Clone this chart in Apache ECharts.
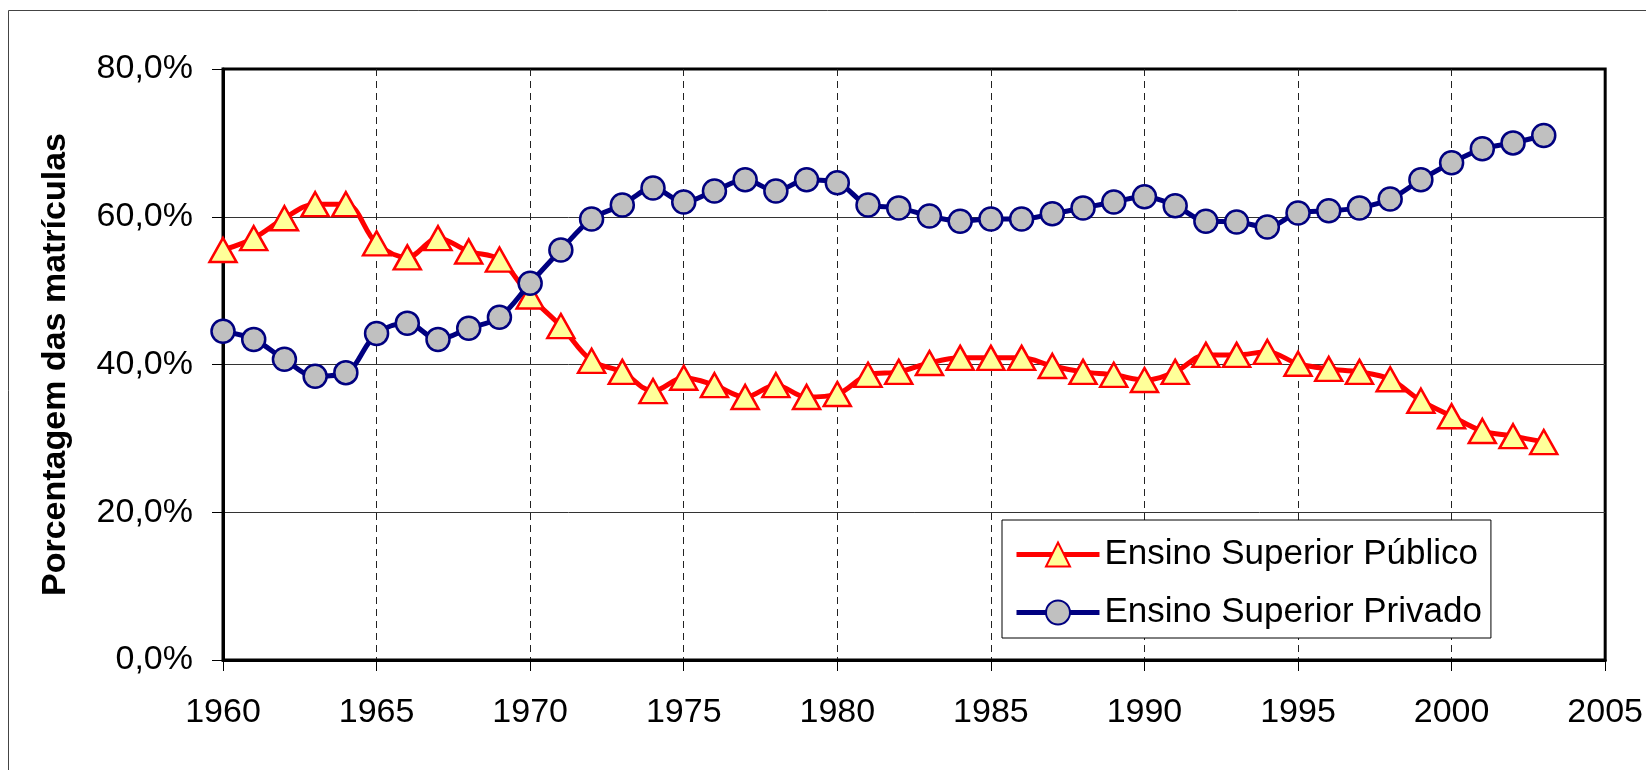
<!DOCTYPE html>
<html style="height: 100%">
<head>
	<meta charset="utf-8">
	<script src="https://cdn.jsdelivr.net/npm/echarts@6/dist/echarts.min.js"></script>
	<style>
		html, body { margin: 0; padding: 0; background: #fff; }
		#main { width: 1646px; height: 770px; }
	</style>
</head>
<body>
	<div id="main"></div>
	<script>
		// anos
		var anos = [1960, 1961, 1962, 1963, 1964, 1965, 1966, 1967, 1968, 1969,
			1970, 1971, 1972, 1973, 1974, 1975, 1976, 1977, 1978, 1979,
			1980, 1981, 1982, 1983, 1984, 1985, 1986, 1987, 1988, 1989,
			1990, 1991, 1992, 1993, 1994, 1995, 1996, 1997, 1998, 1999,
			2000, 2001, 2002, 2003];

		// % das matriculas
		var publico = [55.5, 57.1, 59.8, 61.7, 61.7, 56.4, 54.5, 57.1, 55.3, 54.2,
			49.2, 45.2, 40.5, 39.0, 36.4, 38.2, 37.2, 35.6, 37.2, 35.6,
			36.0, 38.6, 39.0, 40.2, 40.9, 40.9, 40.9, 39.8, 39.0, 38.6,
			37.9, 39.0, 41.3, 41.3, 41.7, 40.1, 39.4, 39.0, 38.0, 35.1,
			33.0, 31.0, 30.3, 29.5];
		var privado = [44.5, 43.4, 40.7, 38.4, 38.9, 44.2, 45.6, 43.4, 44.9, 46.4,
			51.0, 55.5, 59.7, 61.6, 63.9, 62.0, 63.5, 65.0, 63.5, 65.0,
			64.6, 61.6, 61.2, 60.1, 59.4, 59.7, 59.7, 60.4, 61.2, 62.0,
			62.7, 61.5, 59.4, 59.3, 58.6, 60.5, 60.8, 61.2, 62.4, 65.0,
			67.3, 69.2, 70.0, 71.0];

		var nomes = ['Ensino Superior Público', 'Ensino Superior Privado'];

		function pares(vals) {
			return anos.map(function(a, i) { return [a, vals[i]]; });
		}

		var fonte = "'Liberation Sans', Arial, sans-serif";
		var myChart = echarts.init(document.getElementById('main'));

		var option = {
			animation: false,
			backgroundColor: '#fff',
			textStyle: { fontFamily: fonte },
			graphic: [{
				type: 'rect',
				shape: { x: 8.5, y: 10.5, width: 1660, height: 800 },
				style: { fill: null, stroke: '#444', lineWidth: 1 },
				silent: true
			}],
			grid: {
				left: 223, right: 38, top: 69, bottom: 110,
				show: true, borderColor: '#000', borderWidth: 3,
				containLabel: false
			},
			legend: {
				orient: 'vertical',
				left: 1002, top: 520,
				padding: [17, 9, 8, 12],
				itemGap: 23,
				itemWidth: 83, itemHeight: 30,
				backgroundColor: '#fff',
				borderColor: '#000', borderWidth: 1,
				lineStyle: { width: 5 },
				textStyle: { fontSize: 35, color: '#000', fontFamily: fonte },
				data: nomes
			},
			xAxis: {
				type: 'value',
				min: 1960, max: 2005, interval: 5,
				axisLine: { show: true, lineStyle: { color: '#000', width: 3 } },
				axisTick: { show: true, length: 11, lineStyle: { color: '#000', width: 1 } },
				axisLabel: {
					fontSize: 34, color: '#000', margin: 36, fontFamily: fonte,
					formatter: function(v) { return String(v); }
				},
				splitLine: {
					show: true, showMinLine: false, showMaxLine: false,
					lineStyle: { color: '#222', width: 1, type: [7, 5] }
				}
			},
			yAxis: {
				type: 'value',
				min: 0, max: 80, interval: 20,
				name: 'Porcentagem das matrículas',
				nameLocation: 'middle',
				nameRotate: 90,
				nameGap: 150,
				nameTextStyle: { fontSize: 34, fontWeight: 'bold', color: '#000', fontFamily: fonte },
				axisLine: { show: true, lineStyle: { color: '#000', width: 3 } },
				axisTick: { show: true, length: 11, lineStyle: { color: '#000', width: 1 } },
				axisLabel: {
					fontSize: 34, color: '#000', margin: 30, fontFamily: fonte,
					formatter: function(v) { return v.toFixed(1).replace('.', ',') + '%'; }
				},
				splitLine: {
					show: true, showMinLine: false, showMaxLine: false,
					lineStyle: { color: '#333', width: 1 }
				}
			},
			series: [{
				name: nomes[0],
				type: 'line',
				smooth: 0.35,
				data: pares(publico),
				symbol: 'triangle',
				symbolSize: [27, 24],
				lineStyle: { color: '#ff0000', width: 5 },
				itemStyle: { color: '#ffff99', borderColor: '#ff0000', borderWidth: 2.5 },
				z: 3
			}, {
				name: nomes[1],
				type: 'line',
				smooth: 0.35,
				data: pares(privado),
				symbol: 'circle',
				symbolSize: 23,
				lineStyle: { color: '#000080', width: 5 },
				itemStyle: { color: '#c0c0c0', borderColor: '#000080', borderWidth: 2.5 },
				z: 4
			}]
		};

		myChart.setOption(option);
	</script>
</body>
</html>
